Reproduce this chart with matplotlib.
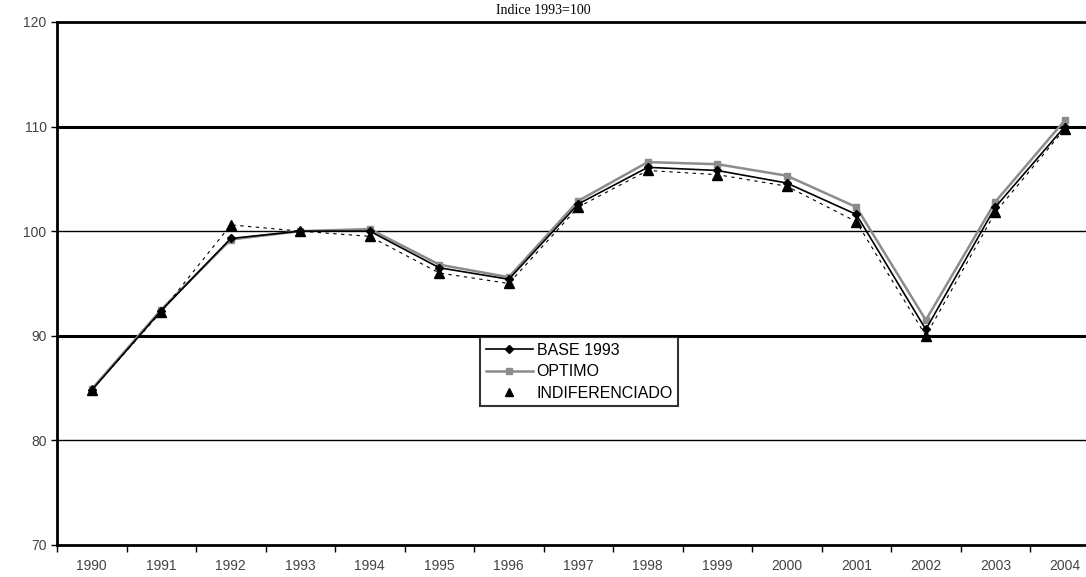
import matplotlib.pyplot as plt
from matplotlib.lines import Line2D

years = ['1990', '1991', '1992', '1993', '1994', '1995', '1996', '1997',
         '1998', '1999', '2000', '2001', '2002', '2003', '2004']
base_1993 = [84.8, 92.4, 99.3, 100.0, 100.0, 96.5, 95.4, 102.6,
             106.1, 105.8, 104.6, 101.6, 90.6, 102.3, 110.0]
optimo = [84.9, 92.5, 99.2, 100.0, 100.2, 96.8, 95.6, 102.9,
          106.6, 106.4, 105.3, 102.3, 91.5, 102.8, 110.6]
indiferenciado = [84.8, 92.3, 100.6, 100.0, 99.5, 96.0, 95.0, 102.3,
                  105.8, 105.4, 104.3, 100.9, 90.0, 101.8, 109.8]

plt.rcParams['font.family'] = ['Liberation Sans', 'DejaVu Sans']

fig = plt.figure(figsize=(10.86, 5.77), dpi=100)
ax = fig.add_axes([0.0525, 0.0555, 0.96, 0.9065])

x = list(range(len(years)))

# grid lines (thicker at 90 and 110 as in the scanned original)
for v, lw in [(80, 1.0), (90, 2.2), (100, 1.0), (110, 2.2)]:
    ax.axhline(v, color='black', linewidth=lw, zorder=1)

ax.plot(x, indiferenciado, color='black', linestyle=(0, (3, 4)), linewidth=0.8,
        marker='^', markersize=6.5, zorder=3)
ax.plot(x, optimo, color='#8c8c8c', linewidth=1.8,
        marker='s', markersize=4.5, zorder=2)
ax.plot(x, base_1993, color='black', linewidth=1.2,
        marker='D', markersize=4.5, zorder=4)

ax.set_xlim(-0.48, 14.35)
ax.set_ylim(70, 120)
ax.set_yticks([70, 80, 90, 100, 110, 120])
ax.set_xticks(x)
ax.set_xticklabels(years)
ax.set_xticks([i + 0.5 for i in range(-1, 15)], minor=True)
ax.tick_params(axis='x', which='major', length=0, pad=10, labelsize=10)
ax.tick_params(axis='x', which='minor', length=5, width=1)
ax.tick_params(axis='y', length=4, width=1, labelsize=10)
ax.tick_params(axis='both', labelcolor='#444444')

ax.spines['left'].set_linewidth(2)
ax.spines['bottom'].set_linewidth(2)
ax.spines['top'].set_linewidth(2)
ax.spines['right'].set_visible(False)

fig.text(0.5, 0.982, 'Indice 1993=100', ha='center', va='center',
         fontsize=10, family='Liberation Serif')

handles = [
    Line2D([], [], color='black', linewidth=1.2, marker='D', markersize=4),
    Line2D([], [], color='#8c8c8c', linewidth=1.8, marker='s', markersize=4),
    Line2D([], [], color='black', linestyle='none', marker='^', markersize=6),
]
leg = ax.legend(handles, ['BASE 1993', 'OPTIMO', 'INDIFERENCIADO'],
                loc='upper left', bbox_to_anchor=(0.398, 0.412),
                frameon=True, fancybox=False, edgecolor='black',
                fontsize=11.5, handlelength=3.0, borderpad=0.35,
                labelspacing=0.4, handletextpad=0.2)
leg.get_frame().set_linewidth(1.5)
leg.set_zorder(5)

fig.savefig('out.png', dpi=100)
